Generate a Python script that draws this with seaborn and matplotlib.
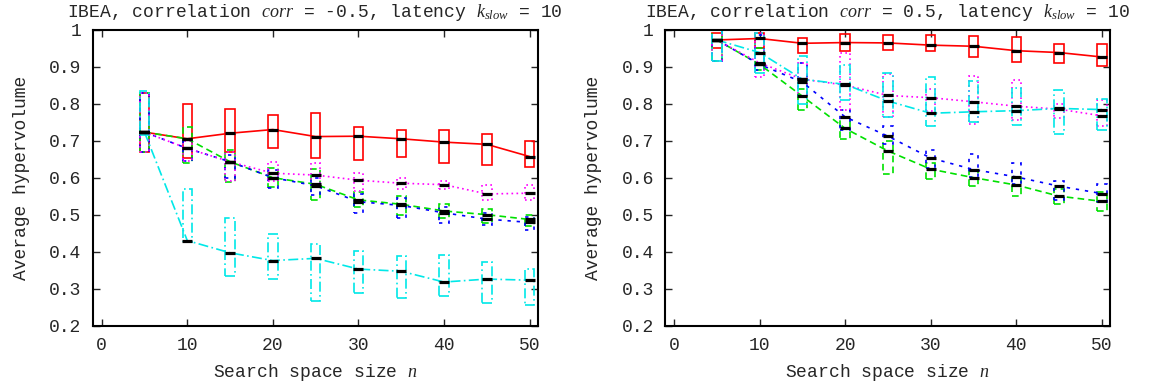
#!/usr/bin/env python3
#
# IBEA average hypervolume vs search space size, two correlations
#
import numpy as np
import pandas as pd
import matplotlib
matplotlib.use('Agg')
import matplotlib.pyplot as plt
import seaborn as sns

sizes = [5, 10, 15, 20, 25, 30, 35, 40, 45, 50]
series = ['red', 'green', 'blue', 'magenta', 'cyan']

# Left panel: corr = -0.5
neg_mean = {
    'red':     [0.723, 0.705, 0.720, 0.730, 0.711, 0.712, 0.705, 0.696, 0.690, 0.657],
    'green':   [0.723, 0.705, 0.643, 0.600, 0.582, 0.540, 0.528, 0.510, 0.500, 0.487],
    'blue':    [0.723, 0.679, 0.643, 0.600, 0.578, 0.535, 0.525, 0.505, 0.488, 0.479],
    'magenta': [0.723, 0.679, 0.643, 0.612, 0.607, 0.593, 0.585, 0.581, 0.556, 0.558],
    'cyan':    [0.723, 0.430, 0.397, 0.376, 0.382, 0.353, 0.347, 0.318, 0.326, 0.323],
}
neg_lo = {
    'red':     [0.668, 0.652, 0.670, 0.681, 0.652, 0.649, 0.656, 0.639, 0.634, 0.630],
    'green':   [0.668, 0.640, 0.589, 0.575, 0.540, 0.520, 0.500, 0.490, 0.478, 0.470],
    'blue':    [0.668, 0.645, 0.600, 0.571, 0.553, 0.505, 0.490, 0.477, 0.472, 0.459],
    'magenta': [0.668, 0.645, 0.590, 0.590, 0.580, 0.565, 0.570, 0.570, 0.540, 0.540],
    'cyan':    [0.715, 0.427, 0.333, 0.327, 0.268, 0.289, 0.274, 0.280, 0.261, 0.255],
}
neg_hi = {
    'red':     [0.830, 0.798, 0.786, 0.770, 0.775, 0.737, 0.730, 0.730, 0.719, 0.700],
    'green':   [0.830, 0.737, 0.675, 0.625, 0.623, 0.560, 0.550, 0.530, 0.515, 0.500],
    'blue':    [0.830, 0.700, 0.660, 0.620, 0.600, 0.555, 0.545, 0.520, 0.505, 0.495],
    'magenta': [0.830, 0.700, 0.670, 0.643, 0.639, 0.612, 0.600, 0.590, 0.580, 0.580],
    'cyan':    [0.835, 0.569, 0.490, 0.448, 0.421, 0.402, 0.388, 0.390, 0.371, 0.353],
}

# Right panel: corr = 0.5
pos_mean = {
    'red':     [0.972, 0.976, 0.963, 0.965, 0.964, 0.958, 0.955, 0.943, 0.938, 0.926],
    'green':   [0.972, 0.906, 0.820, 0.733, 0.672, 0.623, 0.600, 0.580, 0.550, 0.536],
    'blue':    [0.972, 0.906, 0.858, 0.764, 0.712, 0.653, 0.622, 0.602, 0.577, 0.557],
    'magenta': [0.972, 0.910, 0.866, 0.850, 0.822, 0.816, 0.805, 0.793, 0.785, 0.767],
    'cyan':    [0.972, 0.938, 0.866, 0.852, 0.807, 0.774, 0.778, 0.781, 0.787, 0.784],
}
pos_lo = {
    'red':     [0.950, 0.949, 0.938, 0.943, 0.946, 0.943, 0.926, 0.913, 0.911, 0.901],
    'green':   [0.915, 0.890, 0.784, 0.704, 0.609, 0.596, 0.578, 0.551, 0.530, 0.510],
    'blue':    [0.915, 0.890, 0.820, 0.729, 0.690, 0.625, 0.602, 0.584, 0.539, 0.535],
    'magenta': [0.915, 0.872, 0.820, 0.782, 0.765, 0.780, 0.746, 0.755, 0.760, 0.740],
    'cyan':    [0.915, 0.882, 0.800, 0.810, 0.764, 0.740, 0.750, 0.741, 0.717, 0.728],
}
pos_hi = {
    'red':     [0.990, 0.991, 0.978, 0.987, 0.985, 0.985, 0.983, 0.980, 0.961, 0.960],
    'green':   [1.000, 0.950, 0.840, 0.760, 0.700, 0.640, 0.620, 0.600, 0.570, 0.560],
    'blue':    [1.000, 0.985, 0.910, 0.782, 0.739, 0.674, 0.663, 0.640, 0.590, 0.584],
    'magenta': [1.000, 0.990, 0.910, 0.938, 0.880, 0.840, 0.874, 0.864, 0.800, 0.810],
    'cyan':    [1.000, 0.991, 0.928, 0.904, 0.884, 0.871, 0.860, 0.841, 0.836, 0.812],
}

titles = [r'IBEA, correlation $corr$ = -0.5, latency $k_{slow}$ = 10',
          r'IBEA, correlation $corr$ = 0.5, latency $k_{slow}$ = 10']

# gnuplot-like colours and dash patterns
colors = {'red': '#ff0000', 'green': '#00e000', 'blue': '#0000ff',
          'magenta': '#ff00ff', 'cyan': '#00e8e8'}
dashes = {'red': '', 'green': (4, 2.5), 'blue': (2, 3.5),
          'magenta': (1, 2), 'cyan': (6, 2, 1, 2)}

sns.set_style('ticks')
plt.rcParams['font.family'] = ['Liberation Mono', 'DejaVu Sans']
plt.rcParams['mathtext.fontset'] = 'custom'
plt.rcParams['mathtext.it'] = 'Liberation Serif:italic'
plt.rcParams['mathtext.rm'] = 'Liberation Serif'
plt.rcParams['font.size'] = 13

fig = plt.figure(figsize=(11.53, 3.89), dpi=100)
ax0 = fig.add_axes([0.0804, 0.1627, 0.3860, 0.7612])
ax1 = fig.add_axes([0.5768, 0.1627, 0.3859, 0.7612])

lw = 1.2
panels = [(ax0, neg_mean, neg_lo, neg_hi), (ax1, pos_mean, pos_lo, pos_hi)]
for i, (ax, means, los, his) in enumerate(panels):
    rows = []
    for s in series:
        for x, m in zip(sizes, means[s]):
            rows.append({'n': x, 'hv': m, 'alg': s})
    df = pd.DataFrame(rows)

    # Boxes
    for s in series:
        lo = np.array(los[s])
        hi = np.array(his[s])
        ls = '-' if dashes[s] == '' else (0, dashes[s])
        ax.bar(sizes, hi - lo, bottom=lo, width=1.1, fill=False,
               edgecolor=colors[s], linewidth=lw, linestyle=ls, zorder=2)

    # Lines through the means
    sns.lineplot(data=df, x='n', y='hv', hue='alg', style='alg',
                 palette=colors, dashes=dashes, hue_order=series,
                 style_order=series, linewidth=lw, legend=False, ax=ax,
                 zorder=3)

    # Black median marks
    for s in series:
        ax.plot(sizes, means[s], ls='none', marker='_', ms=7.5, mew=2.3,
                color='black', zorder=4)

    ax.set_xlim(-1.05, 50.95)
    ax.set_ylim(0.2, 1.0)
    ax.set_xticks(range(0, 51, 10))
    yt = np.arange(0.2, 1.01, 0.1)
    ax.set_yticks(yt)
    ax.set_yticklabels(['%g' % round(v, 1) for v in yt])
    ax.tick_params(direction='in', top=True, right=True, length=5,
                   width=1.0, pad=8, labelsize=13)
    for sp in ax.spines.values():
        sp.set_linewidth(1.5)
        sp.set_color('black')
    ax.set_xlabel('Search space size $n$', fontsize=13, labelpad=6)
    ax.set_ylabel('Average hypervolume', fontsize=13, labelpad=14)
    ax.set_title(titles[i], fontsize=13, pad=9)

plt.savefig('out.png', dpi=100)
